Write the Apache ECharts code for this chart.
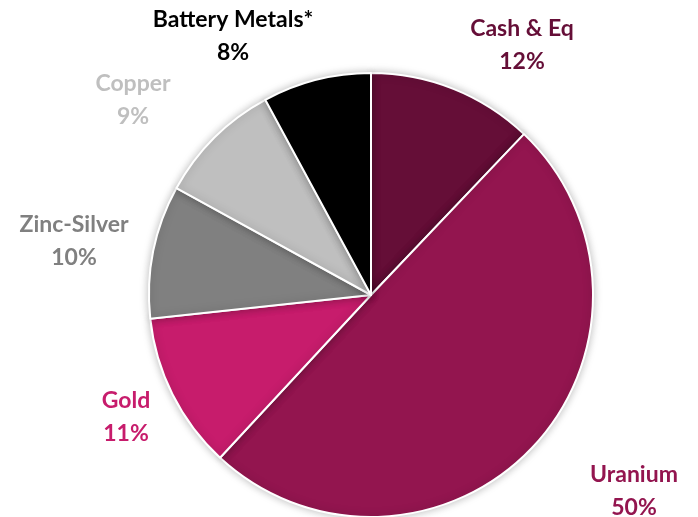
<!DOCTYPE html>
<html>
<head>
<meta charset="utf-8">
<script src="https://cdn.jsdelivr.net/npm/echarts@6/dist/echarts.min.js"></script>
<style>html,body{margin:0;padding:0;background:#fff;}#c{width:698px;height:517px;}</style>
</head>
<body>
<div id="c"></div>
<script>
const categories = ['Cash & Eq', 'Uranium', 'Gold', 'Zinc-Silver', 'Copper', 'Battery Metals*'];
const shares = [12.1, 49.8, 11.4, 9.7, 9.1, 7.9];
const colors = ['#650E37', '#93154F', '#C71C6C', '#808080', '#BFBFBF', '#000000'];
// label centre positions (layout only)
const labelPos = [[522, 45], [634, 491], [126, 417], [74, 241], [133, 100], [233, 36]];

const chart = echarts.init(document.getElementById('c'));
chart.setOption({
  animation: false,
  series: [{
    type: 'pie',
    center: [371, 295],
    radius: 222,
    startAngle: 90,
    clockwise: true,
    data: categories.map((n, i) => ({
      name: n,
      value: shares[i],
      itemStyle: { color: colors[i] },
      label: { color: colors[i] }
    })),
    itemStyle: { borderColor: '#fff', borderWidth: 2, shadowBlur: 8, shadowColor: 'rgba(0,0,0,0.25)' },
    label: {
      show: true,
      position: 'outside',
      formatter: p => p.name + '\n' + Math.round(p.value) + '%',
      fontFamily: 'Lato',
      fontWeight: 'bold',
      fontSize: 23,
      lineHeight: 33,
      align: 'center',
      overflow: 'none',
      width: 250
    },
    labelLine: { show: false },
    labelLayout: function (p) {
      const pos = labelPos[p.dataIndex];
      return { x: pos[0], y: pos[1], align: 'center', verticalAlign: 'middle' };
    }
  }]
});
</script>
</body>
</html>
